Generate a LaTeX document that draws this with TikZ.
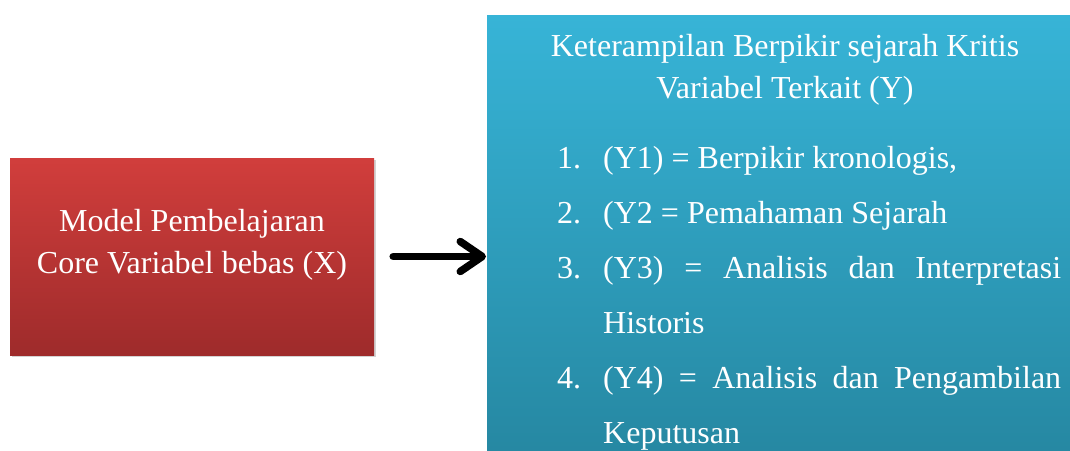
\documentclass[tikz,border=0pt]{standalone}
\usepackage{fontspec}
\setmainfont{Liberation Serif}
\usetikzlibrary{arrows.meta,positioning,shadows}
\setlength\parindent{0pt}
\hyphenpenalty=10000
\definecolor{redtop}{RGB}{209,62,60}
\definecolor{redbot}{RGB}{158,43,43}
\definecolor{bluetop}{RGB}{55,180,215}
\definecolor{bluebot}{RGB}{37,134,160}
\tikzset{
  panel/.style={inner sep=0pt,drop shadow={opacity=0.35,shadow xshift=1.5pt,shadow yshift=-2pt}},
  varx/.style={panel,top color=redtop,bottom color=redbot,minimum width=364pt,minimum height=197pt},
  vary/.style={panel,top color=bluetop,bottom color=bluebot,minimum width=600pt,minimum height=455pt},
  txt/.style={text=white,font=\fontsize{32}{42}\selectfont,inner sep=0pt},
  itemno/.style={txt,anchor=base west},
  itemtxt/.style={txt,anchor=base west,text width=458pt,align=justify,
    font=\fontsize{32}{55}\selectfont},
  flowarrow/.style={-{Straight Barb[length=22pt,width=30pt,round]},line width=7.5pt,
    line cap=round,line join=round}
}
\begin{document}
\begin{tikzpicture}[x=1pt,y=-1pt]
\useasboundingbox (0,0) rectangle (1070,450);
\clip (0,0) rectangle (1070,450);
\node[varx] (model) at (192,256.5) {};
\node[vary,anchor=north west] (skill) at (487,15) {};
\node[txt,align=center,anchor=base] (modeltxt) at (192,273)
  {Model Pembelajaran\\Core Variabel bebas (X)};
\node[txt,align=center,anchor=base] (title) at (785,98)
  {Keterampilan Berpikir sejarah Kritis\\Variabel Terkait (Y)};
% daftar indikator Y
\node[itemno] (n1) at (557,168) {1.};
\node[itemtxt] (y1) at (603,168) {(Y1) = Berpikir kronologis,};
\node[itemno] (n2) at (557,223) {2.};
\node[itemtxt] (y2) at (603,223) {(Y2 = Pemahaman Sejarah};
\node[itemno] (n3) at (557,278) {3.};
\node[itemtxt] (y3) at (603,278) {(Y3) = Analisis dan Interpretasi Historis};
\node[itemno] (n4) at (557,388) {4.};
\node[itemtxt] (y4) at (603,388) {(Y4) = Analisis dan Pengambilan Keputusan};
\draw[flowarrow,shorten <=19pt,shorten >=1pt] (model) -- (model -| skill.west);
\end{tikzpicture}
\end{document}
